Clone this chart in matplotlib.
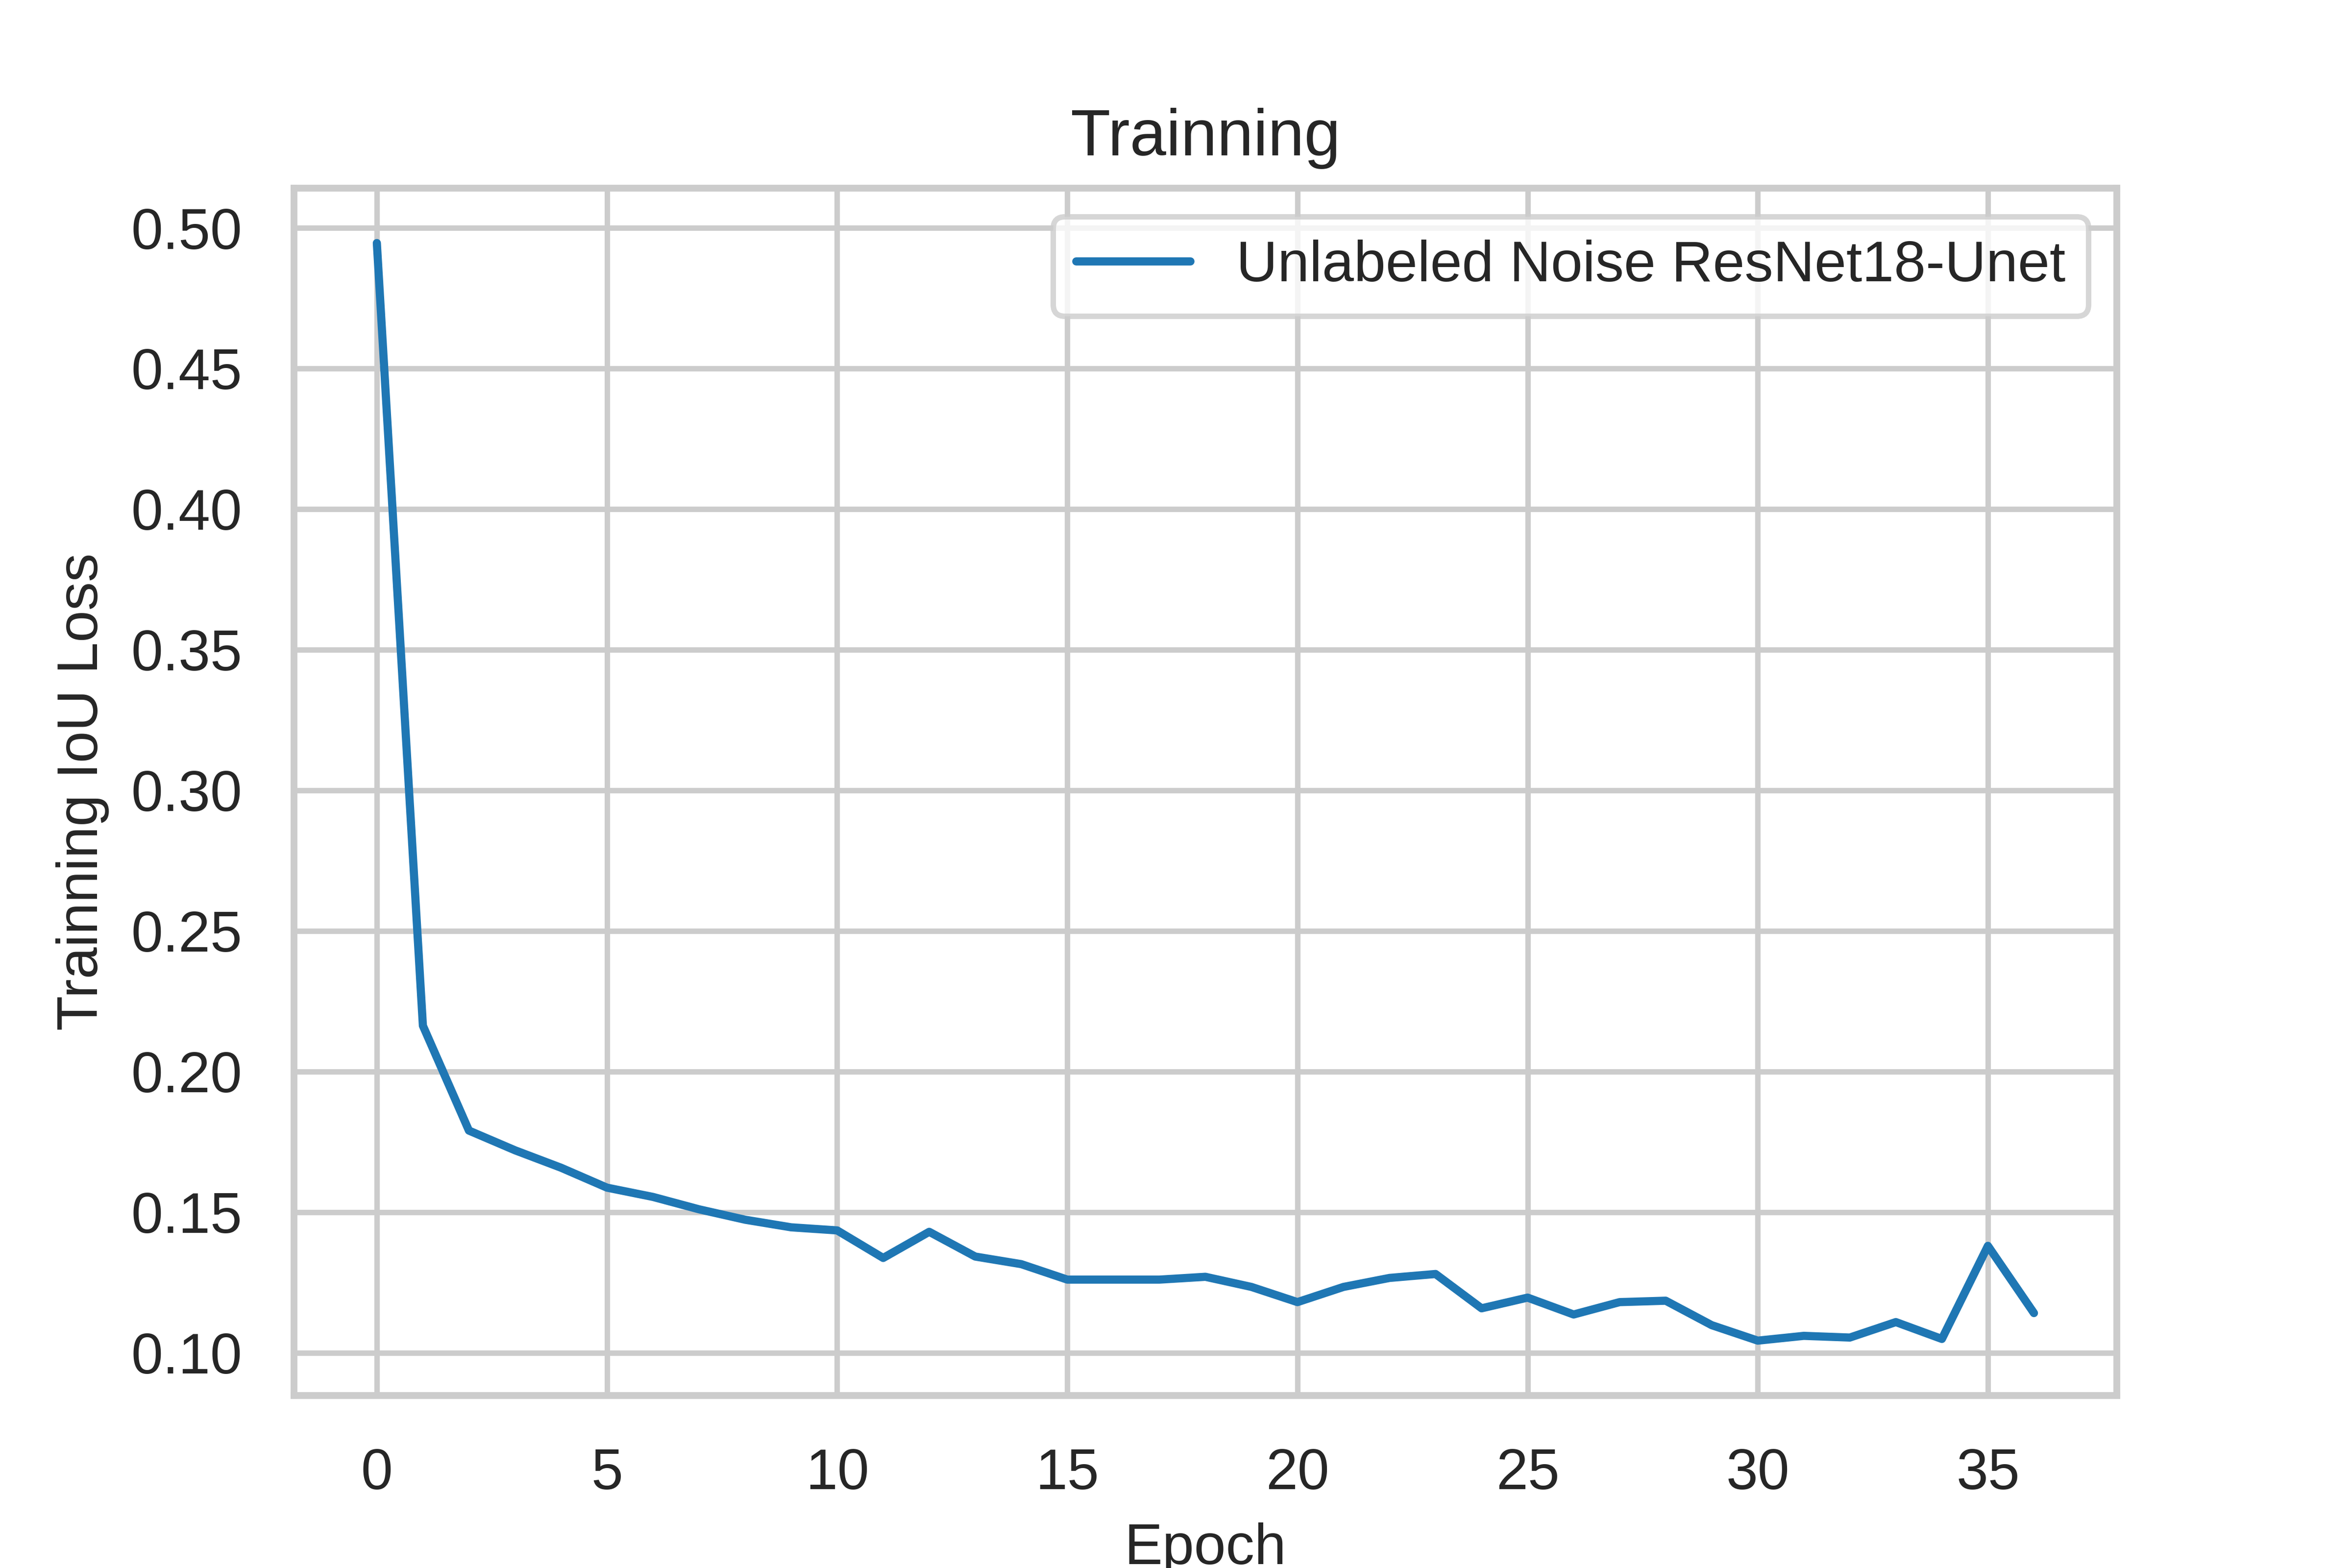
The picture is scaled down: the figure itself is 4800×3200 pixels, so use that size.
import numpy as np
import matplotlib.pyplot as plt
import seaborn as sns

sns.set_theme(style="whitegrid")
plt.rcParams['font.family'] = ['Liberation Sans', 'DejaVu Sans']

epochs = np.arange(37)
train_loss = [0.4946, 0.2163, 0.179, 0.172, 0.1658, 0.1587, 0.1554, 0.151, 0.1473,
              0.1446, 0.1435, 0.1337, 0.143, 0.1342, 0.1315, 0.126, 0.126, 0.126,
              0.127, 0.1234, 0.118, 0.1234, 0.1266, 0.128, 0.1158, 0.1196, 0.1136,
              0.118, 0.1185, 0.1098, 0.1043, 0.106, 0.1054, 0.1109, 0.1049, 0.138,
              0.1141]

fig, ax = plt.subplots(figsize=(6, 4), dpi=800)
ax.plot(epochs, train_loss, color="#1f77b4", linewidth=1.5,
        label="Unlabeled Noise ResNet18-Unet")
ax.set_title("Trainning", fontsize=12)
ax.set_xlabel("Epoch", fontsize=10.5)
ax.set_ylabel("Trainning IoU Loss", fontsize=10.5)
ax.tick_params(labelsize=10.5)
ax.legend(loc="upper right", fontsize=10.5)
fig.savefig("out.png", dpi=800)
